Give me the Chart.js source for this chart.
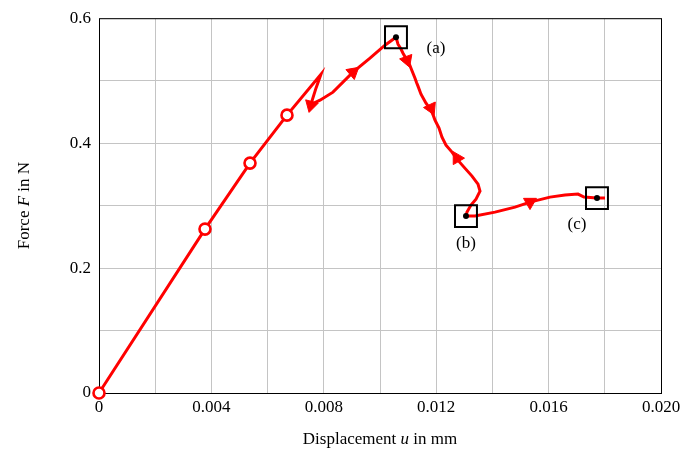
<!DOCTYPE html>
<html>
<head>
<meta charset="utf-8">
<script src="https://cdn.jsdelivr.net/npm/chart.js@4"></script>
<style>
html,body{margin:0;padding:0;background:#fff;}
#wrap{width:690px;height:458px;}
</style>
</head>
<body>
<div id="wrap"><canvas id="c" width="690" height="458"></canvas></div>
<script>
// ---- data ----
const dispPath = [0, 0.003772, 0.005374, 0.006690, 0.007900, 0.007722, 0.007544, 0.007651, 0.007865, 0.008327,
  0.009039, 0.009644, 0.010178, 0.010569, 0.010641, 0.010730, 0.010819, 0.010961, 0.011060, 0.011103, 0.011246,
  0.011300, 0.011352, 0.011459, 0.011637, 0.011815, 0.011900, 0.011957, 0.012100, 0.012206, 0.012349, 0.012562,
  0.012740, 0.012989, 0.013274, 0.013488, 0.013559, 0.013416, 0.013238, 0.013096, 0.013060,
  0.013381, 0.014093, 0.014804, 0.015338, 0.016050, 0.016584, 0.017046, 0.017260, 0.017722, 0.018007];
const forcePath = [0, 0.2624, 0.3680, 0.4448, 0.5104, 0.4880, 0.4624, 0.4640, 0.4688, 0.4816,
  0.5136, 0.5360, 0.5568, 0.5696, 0.5584, 0.5520, 0.5440, 0.5328, 0.5250, 0.5200, 0.5040,
  0.4970, 0.4912, 0.4784, 0.4640, 0.4528, 0.4440, 0.4368, 0.4240, 0.4096, 0.3968, 0.3856,
  0.3744, 0.3616, 0.3472, 0.3344, 0.3232, 0.3104, 0.3008, 0.2896, 0.2832,
  0.2832, 0.2896, 0.2976, 0.3056, 0.3136, 0.3168, 0.3184, 0.3136, 0.3120, 0.3120];

const circleDisp = [0, 0.003772, 0.005374, 0.006690];
const circleForce = [0, 0.2624, 0.3680, 0.4448];

const arrowDisp = [0.007544, 0.009039, 0.010961, 0.011815, 0.012740, 0.015338];
const arrowForce = [0.4608, 0.5136, 0.5328, 0.4560, 0.3760, 0.3056];

const stateNames = ['(a)', '(b)', '(c)'];
const stateDisp = [0.010569, 0.013060, 0.017722];
const stateForce = [0.5696, 0.2832, 0.3120];

const xTickValues = [0, 0.004, 0.008, 0.012, 0.016, 0.020];
const yTickValues = [0, 0.2, 0.4, 0.6];
const xTitle = ['Displacement ', 'u', ' in mm'];
const yTitle = ['Force ', 'F', ' in N'];

// ---- build chart ----
const toPts = (xs, ys) => xs.map((x, i) => ({x: x, y: ys[i]}));
const FONT = '"Liberation Serif", "DejaVu Serif", serif';

const arrowRot = [195, 50, 160, 155, 330, 180];
const labelOffsets = [[40, 11], [0, 27], [-20, 26]];

const framePlugin = {
  id: 'frame',
  beforeDatasetsDraw(chart) {
    const a = chart.chartArea, ctx = chart.ctx;
    ctx.save();
    ctx.strokeStyle = '#000';
    ctx.lineWidth = 1;
    ctx.strokeRect(a.left + 0.5, a.top + 0.5, a.right - a.left, a.bottom - a.top);
    ctx.restore();
  },
  afterDraw(chart) {
    const ctx = chart.ctx, xs = chart.scales.x, ys = chart.scales.y;
    ctx.save();
    ctx.fillStyle = '#000';
    ctx.textBaseline = 'middle';
    ctx.textAlign = 'center';
    ctx.font = '17px ' + FONT;
    stateNames.forEach((n, i) => {
      const px = xs.getPixelForValue(stateDisp[i]) + labelOffsets[i][0];
      const py = ys.getPixelForValue(stateForce[i]) + labelOffsets[i][1];
      ctx.fillText(n, px, py);
    });
    // axis titles with italic variable
    const drawMixed = (parts, cx, cy) => {
      const fonts = ['17px ' + FONT, 'italic 17px ' + FONT, '17px ' + FONT];
      let widths = parts.map((p, i) => { ctx.font = fonts[i]; return ctx.measureText(p).width; });
      let total = widths.reduce((s, w) => s + w, 0);
      let x = cx - total / 2;
      ctx.textAlign = 'left';
      parts.forEach((p, i) => { ctx.font = fonts[i]; ctx.fillText(p, x, cy); x += widths[i]; });
    };
    const a = chart.chartArea;
    drawMixed(xTitle, (a.left + a.right) / 2, 440);
    ctx.save();
    ctx.translate(25, (a.top + a.bottom) / 2);
    ctx.rotate(-Math.PI / 2);
    drawMixed(yTitle, 0, 0);
    ctx.restore();
    ctx.restore();
  }
};

const near = (v, list) => list.some(t => Math.abs(v - t) < 1e-6);

new Chart(document.getElementById('c'), {
  type: 'scatter',
  data: {
    datasets: [
      {
        label: 'path',
        data: toPts(dispPath, forcePath),
        showLine: true,
        borderColor: '#ff0000',
        borderWidth: 3,
        pointRadius: 0,
        tension: 0,
        clip: false,
        order: 4
      },
      {
        label: 'circles',
        data: toPts(circleDisp, circleForce),
        pointStyle: 'circle',
        pointRadius: 5.5,
        borderColor: '#ff0000',
        backgroundColor: '#ffffff',
        borderWidth: 2.6,
        clip: false,
        order: 3
      },
      {
        label: 'arrows',
        data: toPts(arrowDisp, arrowForce),
        pointStyle: 'triangle',
        pointRadius: 7.5,
        rotation: arrowRot,
        borderColor: '#ff0000',
        backgroundColor: '#ff0000',
        borderWidth: 1,
        order: 2
      },
      {
        label: 'boxes',
        data: toPts(stateDisp, stateForce),
        pointStyle: 'rect',
        pointRadius: 15.5,
        borderColor: '#000000',
        backgroundColor: 'rgba(0,0,0,0)',
        borderWidth: 2,
        order: 1
      },
      {
        label: 'dots',
        data: toPts(stateDisp, stateForce),
        pointStyle: 'circle',
        pointRadius: 3,
        borderColor: '#000000',
        backgroundColor: '#000000',
        borderWidth: 0,
        order: 0
      }
    ]
  },
  options: {
    responsive: false,
    animation: false,
    events: [],
    layout: {padding: {top: 18, right: 29, left: 0, bottom: 0}},
    plugins: {legend: {display: false}, tooltip: {enabled: false}},
    scales: {
      x: {
        type: 'linear',
        min: 0, max: 0.02,
        afterFit(s) { s.height = 65; },
        afterBuildTicks(s) {
          const t = [];
          for (let i = 0; i <= 10; i++) t.push({value: i * 0.002});
          s.ticks = t;
        },
        ticks: {
          autoSkip: false,
          maxRotation: 0,
          padding: 4,
          color: '#000',
          font: {family: FONT, size: 17},
          callback(v) {
            if (!near(v, xTickValues)) return '';
            return Math.abs(v) < 1e-9 ? '0' : v.toFixed(3);
          }
        },
        grid: {color: '#c4c4c4', lineWidth: 1, drawTicks: false},
        border: {display: false}
      },
      y: {
        type: 'linear',
        min: 0, max: 0.6,
        afterFit(s) { s.width = 99; },
        afterBuildTicks(s) {
          const t = [];
          for (let i = 0; i <= 6; i++) t.push({value: i * 0.1});
          s.ticks = t;
        },
        ticks: {
          autoSkip: false,
          padding: 8,
          color: '#000',
          font: {family: FONT, size: 17},
          callback(v) {
            if (!near(v, yTickValues)) return '';
            return Math.abs(v) < 1e-9 ? '0' : v.toFixed(1);
          }
        },
        grid: {color: '#c4c4c4', lineWidth: 1, drawTicks: false},
        border: {display: false}
      }
    }
  },
  plugins: [framePlugin]
});
</script>
</body>
</html>
